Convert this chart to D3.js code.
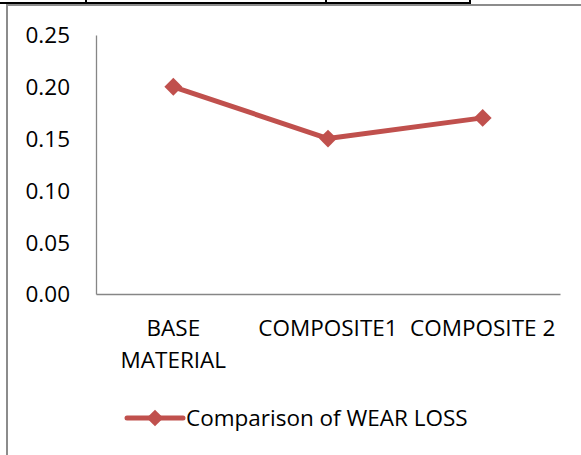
<!DOCTYPE html>
<html>
<head>
<meta charset="utf-8">
<script src="https://cdn.jsdelivr.net/npm/d3@7"></script>
<style>
	body { margin: 0; background: #fff; }
	text { font-family: "Open Sans", sans-serif; fill: #000; }
</style>
</head>
<body>
<div id="chart"></div>
<script>
const categories = [["BASE", "MATERIAL"], ["COMPOSITE1"], ["COMPOSITE 2"]];
const wearLoss = [0.20, 0.15, 0.17];
const yTicks = [0, 0.05, 0.10, 0.15, 0.20, 0.25];
const seriesName = "Comparison of WEAR LOSS";

const width = 581, height = 455;
const margin = {top: 35, right: 21, bottom: 161, left: 96};
const color = "#C0504D";
const fontSize = "22.5px";

const svg = d3.select("#chart").append("svg")
	.attr("width", width)
	.attr("height", height);

svg.append("rect").attr("width", width).attr("height", height).attr("fill", "#fff");

// bits of the page table above the chart
svg.append("line").attr("x1", 0).attr("x2", 471).attr("y1", 3).attr("y2", 3)
	.attr("stroke", "#000").attr("stroke-width", 2);
[86, 326, 470].forEach(x => {
	svg.append("line").attr("x1", x).attr("x2", x).attr("y1", 0).attr("y2", 3)
		.attr("stroke", "#000").attr("stroke-width", 2);
});

// chart frame
svg.append("path")
	.attr("d", `M7,${height} V5 H${width}`)
	.attr("fill", "none")
	.attr("stroke", "#8c8c8c")
	.attr("stroke-width", 2);

const x = d3.scaleBand()
	.domain(d3.range(categories.length))
	.range([margin.left, width - margin.right]);

const y = d3.scaleLinear()
	.domain([0, 0.25])
	.range([height - margin.bottom, margin.top]);

// y axis
const yAxis = svg.append("g")
	.attr("transform", `translate(${margin.left},0)`)
	.call(d3.axisLeft(y).tickValues(yTicks).tickFormat(d3.format(".2f")).tickSize(0).tickPadding(26));
yAxis.select(".domain").attr("stroke", "#868686").attr("stroke-width", 1.3);
yAxis.selectAll("text").style("font-size", fontSize).attr("dy", "0.35em");

// x axis
const xAxis = svg.append("g")
	.attr("transform", `translate(0,${y(0)})`)
	.call(d3.axisBottom(x).tickSize(0).tickFormat(""));
xAxis.select(".domain").attr("stroke", "#868686").attr("stroke-width", 1.3);

xAxis.selectAll(".tick").each(function(d) {
	const t = d3.select(this).append("text")
		.attr("text-anchor", "middle")
		.style("font-size", fontSize)
		.attr("y", 42);
	categories[d].forEach((s, i) => {
		t.append("tspan").attr("x", 0).attr("dy", i === 0 ? 0 : 32).text(s);
	});
});

const line = d3.line()
	.x((d, i) => x(i) + x.bandwidth() / 2)
	.y(d => y(d));

svg.append("path")
	.datum(wearLoss)
	.attr("fill", "none")
	.attr("stroke", color)
	.attr("stroke-width", 5)
	.attr("stroke-linejoin", "round")
	.attr("d", line);

const diamond = d3.symbol().type(d3.symbolSquare).size(160);

svg.selectAll("path.marker")
	.data(wearLoss)
	.enter()
	.append("path")
	.attr("class", "marker")
	.attr("d", diamond)
	.attr("fill", color)
	.attr("transform", (d, i) => `translate(${x(i) + x.bandwidth() / 2},${y(d)}) rotate(45)`);

// legend
const legend = svg.append("g").attr("transform", "translate(127,418)");
legend.append("line")
	.attr("x1", 0).attr("x2", 56)
	.attr("stroke", color).attr("stroke-width", 5).attr("stroke-linecap", "round");
legend.append("path")
	.attr("d", d3.symbol().type(d3.symbolSquare).size(140))
	.attr("fill", color)
	.attr("transform", "translate(28,0) rotate(45)");
legend.append("text")
	.attr("x", 59)
	.attr("dy", "0.35em")
	.style("font-size", fontSize)
	.text(seriesName);
</script>
</body>
</html>
